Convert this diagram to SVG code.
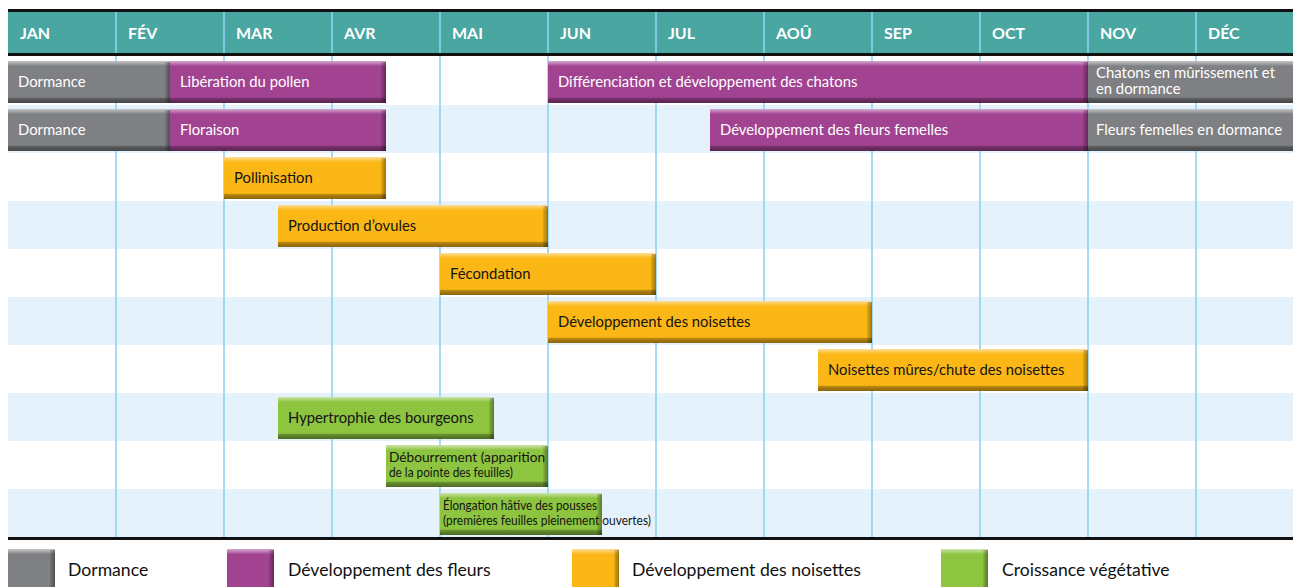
<svg xmlns="http://www.w3.org/2000/svg" width="1293" height="587" viewBox="0 0 1293 587">
  <defs>
    <!-- vertical bevel: light top band, dark bottom band -->
    <linearGradient id="vshade" x1="0" y1="0" x2="0" y2="1">
      <stop offset="0" stop-color="#fff" stop-opacity="0.55"/>
      <stop offset="0.07" stop-color="#fff" stop-opacity="0.25"/>
      <stop offset="0.12" stop-color="#fff" stop-opacity="0"/>
      <stop offset="0.86" stop-color="#000" stop-opacity="0"/>
      <stop offset="0.9" stop-color="#000" stop-opacity="0.3"/>
      <stop offset="1" stop-color="#000" stop-opacity="0.45"/>
    </linearGradient>
    <!-- right bevel edge -->
    <linearGradient id="hshade" x1="0" y1="0" x2="1" y2="0">
      <stop offset="0" stop-color="#000" stop-opacity="0.08"/>
      <stop offset="1" stop-color="#000" stop-opacity="0.38"/>
    </linearGradient>
    <style>
      .hdr { font-family: Lato, "Liberation Sans", sans-serif; font-weight: bold; font-size: 16px; fill: #fff; }
      .lbl { font-family: Lato, "Liberation Sans", sans-serif; font-size: 14.8px; }
      .two { font-size: 13.5px; }
      .leg { font-family: Lato, "Liberation Sans", sans-serif; font-size: 17.6px; fill: #111; }
      .grey  { fill: #7f8083; }
      .purple { fill: #a24392; }
      .orange { fill: #fbb715; }
      .green { fill: #8dc440; }
      .light { fill: #fff; }
      .dark { fill: #141414; }
      .shade { fill: url(#vshade); }
      .edge { fill: url(#hshade); }
      .row-alt { fill: #e5f2fb; }
      .grid line { stroke: #8ed4f1; stroke-width: 1.6; }
    </style>
  </defs>

  <rect width="1293" height="587" fill="#fff"/>

  <!-- row bands -->
  <g id="rows">
    <rect class="row-alt" x="8" y="105" width="1285" height="48"/>
    <rect class="row-alt" x="8" y="201" width="1285" height="48"/>
    <rect class="row-alt" x="8" y="297" width="1285" height="48"/>
    <rect class="row-alt" x="8" y="393" width="1285" height="48"/>
    <rect class="row-alt" x="8" y="489" width="1285" height="48"/>
  </g>

  <!-- month header -->
  <g id="header">
    <rect x="8" y="11" width="1285" height="43" fill="#49a6a0"/>
  </g>

  <!-- month gridlines -->
  <g id="connectors" class="grid">
    <line x1="116" y1="12" x2="116" y2="537"/>
    <line x1="224" y1="12" x2="224" y2="537"/>
    <line x1="332" y1="12" x2="332" y2="537"/>
    <line x1="440" y1="12" x2="440" y2="537"/>
    <line x1="548" y1="12" x2="548" y2="537"/>
    <line x1="656" y1="12" x2="656" y2="537"/>
    <line x1="764" y1="12" x2="764" y2="537"/>
    <line x1="872" y1="12" x2="872" y2="537"/>
    <line x1="980" y1="12" x2="980" y2="537"/>
    <line x1="1088" y1="12" x2="1088" y2="537"/>
    <line x1="1196" y1="12" x2="1196" y2="537"/>
  </g>

  <g id="header-rules">
    <rect x="8" y="9" width="1285" height="3" fill="#111"/>
    <rect x="8" y="53" width="1285" height="3" fill="#111"/>
    <rect x="8" y="537" width="1285" height="3" fill="#111"/>
  </g>

  <g id="months" class="hdr">
    <text x="20" y="39">JAN</text>
    <text x="128" y="39">FÉV</text>
    <text x="236" y="39">MAR</text>
    <text x="344" y="39">AVR</text>
    <text x="452" y="39">MAI</text>
    <text x="560" y="39">JUN</text>
    <text x="668" y="39">JUL</text>
    <text x="776" y="39">AOÛ</text>
    <text x="884" y="39">SEP</text>
    <text x="992" y="39">OCT</text>
    <text x="1100" y="39">NOV</text>
    <text x="1208" y="39">DÉC</text>
  </g>

  <!-- row 1 -->
  <g id="bar-dormance-1">
    <rect class="grey" x="8" y="61" width="162" height="42"/>
    <rect class="shade" x="8" y="61" width="162" height="42"/>
    <rect class="edge" x="165" y="62" width="5" height="41"/>
    <text class="lbl light" x="18" y="87">Dormance</text>
  </g>
  <g id="bar-liberation">
    <rect class="purple" x="170" y="61" width="216" height="42"/>
    <rect class="shade" x="170" y="61" width="216" height="42"/>
    <rect class="edge" x="381" y="62" width="5" height="41"/>
    <text class="lbl light" x="180" y="87">Libération du pollen</text>
  </g>
  <g id="bar-differenciation">
    <rect class="purple" x="548" y="61" width="540" height="42"/>
    <rect class="shade" x="548" y="61" width="540" height="42"/>
    <rect class="edge" x="1083" y="62" width="5" height="41"/>
    <text class="lbl light" x="558" y="87">Différenciation et développement des chatons</text>
  </g>
  <g id="bar-chatons">
    <rect class="grey" x="1088" y="61" width="205" height="42"/>
    <rect class="shade" x="1088" y="61" width="205" height="42"/>
    <text class="lbl light" x="1096" y="78" textLength="179" lengthAdjust="spacingAndGlyphs">Chatons en mûrissement et</text>
    <text class="lbl light" x="1096" y="94">en dormance</text>
  </g>

  <!-- row 2 -->
  <g id="bar-dormance-2">
    <rect class="grey" x="8" y="109" width="162" height="42"/>
    <rect class="shade" x="8" y="109" width="162" height="42"/>
    <rect class="edge" x="165" y="110" width="5" height="41"/>
    <text class="lbl light" x="18" y="135">Dormance</text>
  </g>
  <g id="bar-floraison">
    <rect class="purple" x="170" y="109" width="216" height="42"/>
    <rect class="shade" x="170" y="109" width="216" height="42"/>
    <rect class="edge" x="381" y="110" width="5" height="41"/>
    <text class="lbl light" x="180" y="135">Floraison</text>
  </g>
  <g id="bar-fleurs-femelles">
    <rect class="purple" x="710" y="109" width="378" height="42"/>
    <rect class="shade" x="710" y="109" width="378" height="42"/>
    <rect class="edge" x="1083" y="110" width="5" height="41"/>
    <text class="lbl light" x="720" y="135">Développement des fleurs femelles</text>
  </g>
  <g id="bar-fleurs-dormance">
    <rect class="grey" x="1088" y="109" width="205" height="42"/>
    <rect class="shade" x="1088" y="109" width="205" height="42"/>
    <text class="lbl light" x="1096" y="135" textLength="186" lengthAdjust="spacingAndGlyphs">Fleurs femelles en dormance</text>
  </g>

  <!-- row 3 -->
  <g id="bar-pollinisation">
    <rect class="orange" x="224" y="157" width="162" height="42"/>
    <rect class="shade" x="224" y="157" width="162" height="42"/>
    <rect class="edge" x="381" y="158" width="5" height="41"/>
    <text class="lbl dark" x="234" y="183">Pollinisation</text>
  </g>

  <!-- row 4 -->
  <g id="bar-ovules">
    <rect class="orange" x="278" y="205" width="270" height="42"/>
    <rect class="shade" x="278" y="205" width="270" height="42"/>
    <rect class="edge" x="543" y="206" width="5" height="41"/>
    <text class="lbl dark" x="288" y="231">Production d’ovules</text>
  </g>

  <!-- row 5 -->
  <g id="bar-fecondation">
    <rect class="orange" x="440" y="253" width="216" height="42"/>
    <rect class="shade" x="440" y="253" width="216" height="42"/>
    <rect class="edge" x="651" y="254" width="5" height="41"/>
    <text class="lbl dark" x="450" y="279">Fécondation</text>
  </g>

  <!-- row 6 -->
  <g id="bar-dev-noisettes">
    <rect class="orange" x="548" y="301" width="324" height="42"/>
    <rect class="shade" x="548" y="301" width="324" height="42"/>
    <rect class="edge" x="867" y="302" width="5" height="41"/>
    <text class="lbl dark" x="558" y="327">Développement des noisettes</text>
  </g>

  <!-- row 7 -->
  <g id="bar-noisettes-mures">
    <rect class="orange" x="818" y="349" width="270" height="42"/>
    <rect class="shade" x="818" y="349" width="270" height="42"/>
    <rect class="edge" x="1083" y="350" width="5" height="41"/>
    <text class="lbl dark" x="828" y="375">Noisettes mûres/chute des noisettes</text>
  </g>

  <!-- row 8 -->
  <g id="bar-hypertrophie">
    <rect class="green" x="278" y="397" width="216" height="42"/>
    <rect class="shade" x="278" y="397" width="216" height="42"/>
    <rect class="edge" x="489" y="398" width="5" height="41"/>
    <text class="lbl dark" x="288" y="423">Hypertrophie des bourgeons</text>
  </g>

  <!-- row 9 -->
  <g id="bar-debourrement">
    <rect class="green" x="386" y="445" width="162" height="42"/>
    <rect class="shade" x="386" y="445" width="162" height="42"/>
    <rect class="edge" x="543" y="446" width="5" height="41"/>
    <text class="lbl two dark" x="389" y="462" textLength="156" lengthAdjust="spacingAndGlyphs">Débourrement (apparition</text>
    <text class="lbl two dark" x="389" y="477" textLength="124" lengthAdjust="spacingAndGlyphs">de la pointe des feuilles)</text>
  </g>

  <!-- row 10 -->
  <g id="bar-elongation">
    <rect class="green" x="440" y="493" width="162" height="42"/>
    <rect class="shade" x="440" y="493" width="162" height="42"/>
    <rect class="edge" x="597" y="494" width="5" height="41"/>
    <text class="lbl two dark" x="443" y="510" textLength="154" lengthAdjust="spacingAndGlyphs">Élongation hâtive des pousses</text>
    <text class="lbl two dark" x="443" y="525" textLength="208" lengthAdjust="spacingAndGlyphs">(premières feuilles pleinement ouvertes)</text>
  </g>

  <!-- legend -->
  <g id="legend-dormance">
    <rect class="grey" x="8" y="549" width="47" height="38"/>
    <rect class="shade" x="8" y="549" width="47" height="44"/>
    <rect class="edge" x="50" y="550" width="5" height="37"/>
    <text class="leg" x="68" y="576">Dormance</text>
  </g>
  <g id="legend-fleurs">
    <rect class="purple" x="227" y="549" width="47" height="38"/>
    <rect class="shade" x="227" y="549" width="47" height="44"/>
    <rect class="edge" x="269" y="550" width="5" height="37"/>
    <text class="leg" x="288" y="576">Développement des fleurs</text>
  </g>
  <g id="legend-noisettes">
    <rect class="orange" x="572" y="549" width="47" height="38"/>
    <rect class="shade" x="572" y="549" width="47" height="44"/>
    <rect class="edge" x="614" y="550" width="5" height="37"/>
    <text class="leg" x="632" y="576">Développement des noisettes</text>
  </g>
  <g id="legend-vegetative">
    <rect class="green" x="941" y="549" width="47" height="38"/>
    <rect class="shade" x="941" y="549" width="47" height="44"/>
    <rect class="edge" x="983" y="550" width="5" height="37"/>
    <text class="leg" x="1002" y="576">Croissance végétative</text>
  </g>
</svg>
